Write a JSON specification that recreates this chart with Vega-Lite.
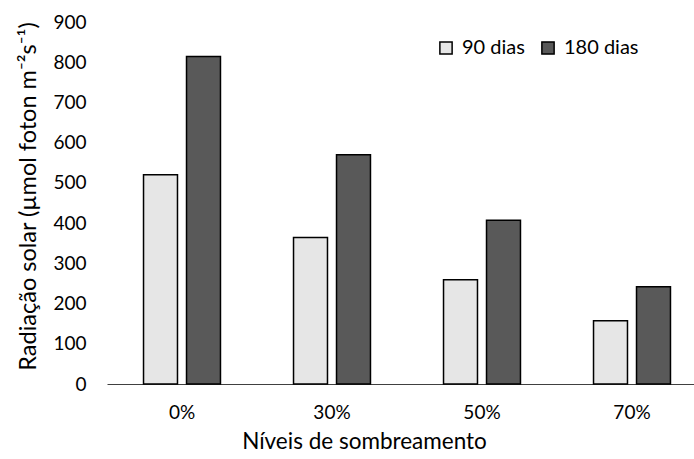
{
  "$schema": "https://vega.github.io/schema/vega-lite/v6.json",
  "width": 587,
  "height": 362,
  "autosize": {"type": "none"},
  "padding": {"left": 107, "top": 22, "right": 0, "bottom": 75},
  "background": "white",
  "config": {"view": {"stroke": null}, "font": "Lato"},
  "data": {
    "values": [
      {"nivel": "0%", "periodo": "90 dias", "radiacao": 520},
      {"nivel": "0%", "periodo": "180 dias", "radiacao": 814},
      {"nivel": "30%", "periodo": "90 dias", "radiacao": 364},
      {"nivel": "30%", "periodo": "180 dias", "radiacao": 570},
      {"nivel": "50%", "periodo": "90 dias", "radiacao": 259},
      {"nivel": "50%", "periodo": "180 dias", "radiacao": 407},
      {"nivel": "70%", "periodo": "90 dias", "radiacao": 157},
      {"nivel": "70%", "periodo": "180 dias", "radiacao": 242}
    ]
  },
  "mark": {"type": "bar", "stroke": "#000000", "strokeWidth": 1.5},
  "encoding": {
    "x": {
      "field": "nivel",
      "type": "nominal",
      "sort": ["0%", "30%", "50%", "70%"],
      "scale": {"range": [0, 600], "paddingInner": 0.487, "paddingOuter": 0.2435},
      "axis": {
        "title": "Níveis de sombreamento",
        "titleFont": "Lato",
        "titleFontSize": 22.5,
        "titleFontWeight": "normal",
        "titleColor": "#000000",
        "titleBaseline": "middle",
        "titleAnchor": "middle",
        "titleAlign": "center",
        "titleX": 257,
        "titleY": 57,
        "labelAngle": 0,
        "labelFontSize": 19,
        "labelColor": "#000000",
        "labelPadding": 19,
        "ticks": false,
        "domainColor": "#404040",
        "domainWidth": 1,
        "grid": false
      }
    },
    "xOffset": {
      "field": "periodo",
      "sort": ["90 dias", "180 dias"],
      "scale": {"paddingInner": 0.21, "paddingOuter": 0}
    },
    "y": {
      "field": "radiacao",
      "type": "quantitative",
      "scale": {"domain": [0, 900], "nice": false},
      "axis": {
        "title": "Radiação solar (µmol foton m⁻²s⁻¹)",
        "titleFont": "Lato",
        "titleFontSize": 23.5,
        "titleFontWeight": "normal",
        "titleColor": "#000000",
        "titleBaseline": "middle",
        "titleX": -79,
        "titleY": 174,
        "values": [0, 100, 200, 300, 400, 500, 600, 700, 800, 900],
        "labelFontSize": 19,
        "labelColor": "#000000",
        "labelPadding": 21,
        "ticks": false,
        "domain": false,
        "grid": false
      }
    },
    "color": {
      "field": "periodo",
      "type": "nominal",
      "sort": ["90 dias", "180 dias"],
      "scale": {"range": ["#e6e6e6", "#595959"]},
      "legend": {
        "title": null,
        "orient": "none",
        "legendX": 329,
        "legendY": 16,
        "direction": "horizontal",
        "columns": 2,
        "padding": 0,
        "symbolType": "square",
        "symbolSize": 150,
        "symbolStrokeColor": "#000000",
        "symbolStrokeWidth": 1.5,
        "symbolOpacity": 1,
        "labelFontSize": 20,
        "labelColor": "#000000",
        "labelOffset": 6,
        "columnPadding": 13
      }
    }
  }
}
